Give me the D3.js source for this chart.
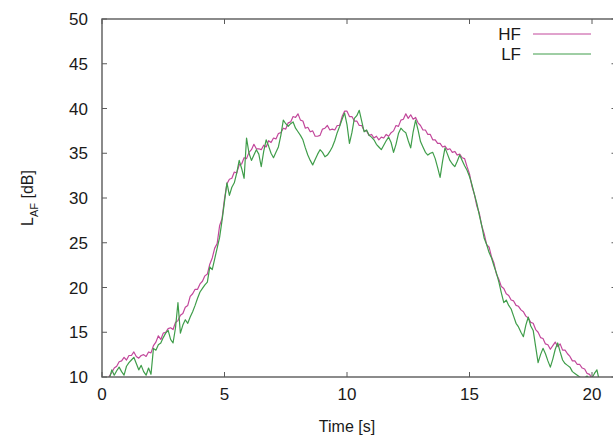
<!DOCTYPE html>
<html>
<head>
<meta charset="utf-8">
<script src="https://cdn.jsdelivr.net/npm/d3@7"></script>
<style>
  body { margin: 0; background: #fff; }
  text { font-family: "Liberation Sans", Arial, sans-serif; fill: #1a1a1a; }
</style>
</head>
<body>
<div id="chart"></div>
<script>
// sampling of both series: start time and step [s]
const tStart = 0;
const tStep = 0.1;

// HF level, L_AF [dB]
const hfValues = [
  9.0, 9.3, 9.5, 10.1, 10.5, 11.0, 11.2, 11.7, 11.8, 12.2,
  11.9, 12.4, 12.4, 12.8, 12.3, 12.1, 12.4, 12.5, 12.3, 12.8,
  12.7, 13.5, 13.9, 14.6, 14.2, 14.9, 15.0, 15.4, 15.5, 15.3,
  16.1, 16.3, 16.9, 17.1, 17.8, 18.0, 19.0, 19.3, 19.8, 19.8,
  20.4, 20.7, 21.3, 21.5, 22.6, 23.3, 24.4, 24.9, 26.9, 27.7,
  29.9, 31.6, 32.1, 32.2, 32.9, 32.8, 33.7, 33.8, 34.5, 34.4,
  35.1, 35.4, 36.0, 35.5, 35.5, 35.4, 35.9, 35.7, 36.4, 36.2,
  36.7, 36.6, 37.2, 37.3, 37.8, 37.7, 38.4, 38.5, 39.1, 39.0,
  39.4, 38.7, 38.6, 37.8, 37.9, 37.4, 37.5, 36.9, 36.9, 37.0,
  37.7, 37.8, 38.1, 37.6, 37.7, 37.6, 38.1, 38.1, 39.1, 39.7,
  39.7, 39.1, 39.1, 38.6, 38.6, 38.1, 38.1, 37.5, 37.5, 37.0,
  37.1, 36.7, 36.9, 36.5, 36.8, 36.7, 37.1, 36.9, 37.3, 37.5,
  38.1, 38.0, 38.7, 38.8, 39.4, 38.9, 39.3, 38.8, 39.0, 38.4,
  38.1, 37.6, 37.6, 37.1, 37.1, 36.5, 36.5, 36.1, 36.1, 35.7,
  35.8, 35.4, 35.5, 35.1, 35.2, 34.8, 34.9, 34.5, 34.4, 33.5,
  32.7, 31.3, 30.4, 29.1, 28.3, 26.9, 26.0, 24.8, 24.5, 23.4,
  22.7, 21.5, 20.9, 20.1, 19.9, 19.3, 19.1, 18.6, 18.5, 18.0,
  17.9, 17.5, 17.3, 16.8, 16.6, 16.1, 16.0, 15.3, 15.0, 14.4,
  14.3, 13.7, 13.6, 13.1, 13.5, 13.9, 13.4, 13.7, 13.0, 13.0,
  12.6, 12.3, 11.8, 11.8, 11.4, 11.4, 11.0, 10.9, 10.4, 10.3,
  9.8, 9.5
];

// LF level, L_AF [dB]
const lfValues = [
  8.5, 8.8, 9.4, 9.8, 10.8, 10.2, 10.7, 11.1, 10.6, 10.2,
  11.2, 11.6, 11.9, 12.2, 11.5, 10.8, 11.3, 10.6, 10.2, 11.0,
  10.3, 13.2, 13.0, 13.6, 13.8, 14.4, 14.9, 15.2, 14.2, 13.8,
  15.5, 18.3, 14.9, 15.8, 16.4, 16.0, 16.7, 17.3, 18.0, 18.8,
  19.5, 19.9, 20.3, 20.6, 22.3, 22.0, 23.2, 24.4, 25.6, 27.5,
  29.6, 31.7, 30.3, 31.2, 31.7, 32.8, 34.2, 33.3, 32.2, 36.7,
  35.0, 34.2, 34.8, 35.4, 34.9, 33.5, 35.2, 36.5, 35.8, 35.0,
  34.5, 35.1, 35.7, 37.0, 38.7, 38.3, 38.0, 38.3, 38.5, 37.8,
  37.4, 37.0, 36.5, 35.6, 34.8, 34.2, 33.7, 34.3, 34.9, 35.4,
  35.1, 34.6, 34.8, 35.2, 35.7, 36.4, 37.3, 38.0, 38.8, 39.5,
  38.2, 36.1, 37.3, 38.9, 39.2, 39.8, 38.6, 37.4, 37.6, 37.0,
  36.8, 36.5, 36.0, 35.7, 35.4, 35.9, 36.4, 36.8, 36.2, 35.1,
  36.0, 37.2, 37.8, 37.5, 37.3, 36.4, 35.6, 37.4, 38.7, 37.6,
  36.3, 35.7, 35.1, 34.8, 35.0, 35.1, 34.4, 33.4, 32.3, 34.1,
  35.6, 34.9, 34.2, 33.8, 33.5, 34.1, 34.8, 34.2, 33.6, 33.1,
  32.4, 31.5, 30.4, 29.4, 28.1, 26.9, 25.5, 24.8, 23.9, 23.3,
  22.4, 21.6, 20.6, 19.4, 18.3, 18.6, 18.0, 17.6, 16.8, 16.0,
  15.6, 15.0, 14.5, 15.8, 16.7, 15.7, 15.2, 13.4, 11.6, 12.5,
  13.2, 12.6, 11.8, 11.1, 12.0, 13.1, 13.8, 12.8, 11.9, 11.5,
  11.3, 11.1, 10.6, 10.4, 10.2, 10.0, 9.7, 9.9, 10.1, 9.8,
  9.9, 10.4, 10.8, 9.6
];

const seriesNames = ["HF", "LF"];
const seriesColors = ["#c2479b", "#3f9d4a"];
const xTicks = [0, 5, 10, 15, 20];
const yTicks = [10, 15, 20, 25, 30, 35, 40, 45, 50];

const W = 613, H = 443;
const x = d3.scaleLinear().domain([0, 20]).range([102, 592]);
const y = d3.scaleLinear().domain([10, 50]).range([377, 19]);
const xRight = x(21); // frame runs past the picture edge

const svg = d3.select("#chart").append("svg")
  .attr("width", W).attr("height", H);

svg.append("defs").append("clipPath").attr("id", "plotclip")
  .append("rect")
  .attr("x", x(0)).attr("y", y(50))
  .attr("width", xRight - x(0)).attr("height", y(10) - y(50));

// plot lines
const line = d3.line()
  .x((d, i) => x(tStart + i * tStep))
  .y(d => y(d));

const plot = svg.append("g").attr("clip-path", "url(#plotclip)");
[hfValues, lfValues].forEach((vals, k) => {
  plot.append("path")
    .datum(vals)
    .attr("fill", "none")
    .attr("stroke", seriesColors[k])
    .attr("stroke-width", 1.2)
    .attr("stroke-linejoin", "round")
    .attr("d", line);
});

// frame
const frameColor = "#5a5a5a";
svg.append("rect")
  .attr("x", x(0)).attr("y", y(50))
  .attr("width", xRight - x(0)).attr("height", y(10) - y(50))
  .attr("fill", "none")
  .attr("stroke", frameColor)
  .attr("stroke-width", 1.4);

// ticks, mirrored on opposite sides, pointing inward
const tickLen = 5;
const ticks = svg.append("g").attr("stroke", frameColor).attr("stroke-width", 1);
xTicks.forEach(v => {
  ticks.append("line").attr("x1", x(v)).attr("x2", x(v)).attr("y1", y(10)).attr("y2", y(10) - tickLen);
  ticks.append("line").attr("x1", x(v)).attr("x2", x(v)).attr("y1", y(50)).attr("y2", y(50) + tickLen);
});
yTicks.forEach(v => {
  ticks.append("line").attr("x1", x(0)).attr("x2", x(0) + tickLen).attr("y1", y(v)).attr("y2", y(v));
  ticks.append("line").attr("x1", xRight).attr("x2", xRight - tickLen).attr("y1", y(v)).attr("y2", y(v));
});

// tick labels
svg.append("g").selectAll("text")
  .data(xTicks).enter().append("text")
  .attr("x", d => x(d)).attr("y", 400)
  .attr("text-anchor", "middle")
  .style("font-size", "17px")
  .text(d => d);

svg.append("g").selectAll("text")
  .data(yTicks).enter().append("text")
  .attr("x", 88).attr("y", d => y(d) + 6)
  .attr("text-anchor", "end")
  .style("font-size", "17px")
  .text(d => d);

// axis titles
svg.append("text")
  .attr("x", 347).attr("y", 432)
  .attr("text-anchor", "middle")
  .style("font-size", "16px")
  .text("Time [s]");

const yl = svg.append("text")
  .attr("transform", "translate(33,198) rotate(-90)")
  .attr("text-anchor", "middle")
  .style("font-size", "16px");
yl.append("tspan").text("L");
yl.append("tspan").attr("dy", 5).style("font-size", "11px").text("AF");
yl.append("tspan").attr("dy", -5).text(" [dB]");

// legend
seriesNames.forEach((name, i) => {
  const ly = 34 + i * 20;
  svg.append("text")
    .attr("x", 521).attr("y", ly + 6)
    .attr("text-anchor", "end")
    .style("font-size", "17px")
    .text(name);
  svg.append("line")
    .attr("x1", 533).attr("x2", 591)
    .attr("y1", ly).attr("y2", ly)
    .attr("stroke", seriesColors[i])
    .attr("stroke-width", 1);
});
</script>
</body>
</html>
